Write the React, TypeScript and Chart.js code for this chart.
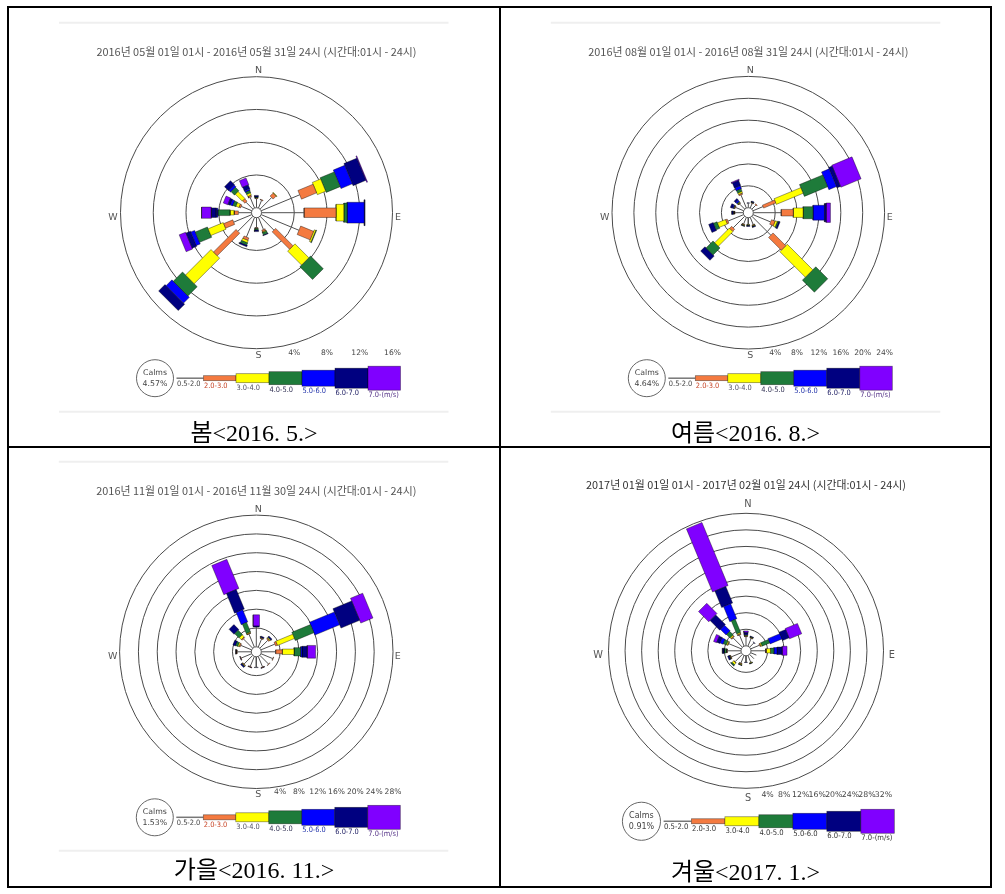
import React, { useEffect, useRef } from 'react';
import { Chart, registerables } from 'chart.js';

Chart.register(...registerables);

// ---------- categories ----------
const DIRECTIONS = ['N', 'NNE', 'NE', 'ENE', 'E', 'ESE', 'SE', 'SSE', 'S', 'SSW', 'SW', 'WSW', 'W', 'WNW', 'NW', 'NNW'];
const SPEED_CLASSES = ['0.5-2.0', '2.0-3.0', '3.0-4.0', '4.0-5.0', '5.0-6.0', '6.0-7.0', '7.0-(m/s)'];

// ---------- 봄 2016.5 (frequency %, by direction N..NNW) ----------
const MAY_0520 = [1.1, 1.0, 2.0, 5.1, 5.2, 5.0, 2.4, 1.6, 1.2, 2.6, 2.6, 2.4, 1.6, 1.4, 1.2, 1.4];
const MAY_2030 = [0.1, 0.1, 0.5, 2.0, 3.9, 1.7, 3.0, 0.2, 0.1, 0.3, 3.9, 1.2, 0.5, 0.2, 0.4, 0.2];
const MAY_3040 = [0, 0, 0.1, 1.1, 0.95, 0.2, 2.4, 0.1, 0, 0.3, 4.4, 2.0, 0.5, 0.4, 1.2, 0.3];
const MAY_4050 = [0.1, 0, 0, 1.85, 0.4, 0.1, 2.2, 0.3, 0.2, 0.3, 1.6, 1.6, 1.5, 0.4, 0.6, 0.3];
const MAY_5060 = [0, 0, 0, 1.5, 2.1, 0, 0, 0, 0, 0, 1.0, 0.5, 0.2, 0.3, 0.3, 0.2];
const MAY_6070 = [0.2, 0, 0, 1.7, 0.1, 0, 0, 0.1, 0.2, 0.2, 1.1, 0.6, 0.6, 0.3, 0.7, 0.5];
const MAY_70UP = [0, 0, 0, 0.1, 0, 0, 0, 0, 0, 0, 0, 0.85, 1.2, 0.6, 0, 0.9];

// ---------- 여름 2016.8 ----------
const AUG_0520 = [0.8, 0.9, 1.0, 2.0, 5.1, 3.5, 4.9, 1.4, 1.2, 1.3, 3.0, 3.1, 1.5, 1.6, 1.3, 2.6];
const AUG_2030 = [0, 0.1, 0.2, 2.4, 2.2, 0.7, 3.3, 0.1, 0, 0.1, 0.5, 0.3, 0.1, 0.1, 0.1, 0.2];
const AUG_3040 = [0, 0, 0, 5.3, 1.8, 0.4, 6.6, 0.1, 0.1, 0.1, 3.8, 1.6, 0.1, 0.1, 0.1, 0.3];
const AUG_4050 = [0, 0.1, 0, 4.6, 1.8, 0.2, 3.1, 0.1, 0.1, 0.1, 1.8, 0.7, 0.1, 0.1, 0.2, 0.5];
const AUG_5060 = [0, 0, 0, 1.5, 2.1, 0, 0, 0, 0, 0, 0, 0, 0, 0.2, 0.3, 0.6];
const AUG_6070 = [0.1, 0.2, 0, 0.7, 0.3, 0.3, 0, 0.2, 0.2, 0.1, 1.1, 0.9, 0.3, 0.4, 0.4, 1.0];
const AUG_70UP = [0, 0, 0, 4.0, 0.8, 0, 0, 0, 0, 0, 0, 0, 0, 0, 0, 0.2];

// ---------- 가을 2016.11 ----------
const NOV_0520 = [4.2, 1.9, 2.4, 3.2, 3.05, 2.7, 2.6, 2.4, 2.2, 2.3, 2.6, 2.4, 3.0, 2.5, 2.8, 3.0];
const NOV_2030 = [0, 0.1, 0.2, 0.4, 1.4, 0.1, 0.1, 0.1, 0, 0.1, 0.1, 0.1, 0.1, 0.2, 0.2, 0.1];
const NOV_3040 = [0, 0.1, 0.2, 3.9, 2.5, 0, 0, 0, 0, 0, 0.1, 0, 0, 0.3, 0.6, 0.2];
const NOV_4050 = [0, 0, 0.1, 4.3, 1.4, 0, 0, 0, 0, 0, 0.1, 0, 0.1, 0.5, 1.3, 2.2];
const NOV_5060 = [0, 0, 0, 5.7, 0.3, 0, 0, 0, 0, 0, 0, 0, 0, 0, 0, 2.8];
const NOV_6070 = [0.2, 0.3, 0.3, 4.3, 1.1, 0, 0, 0.1, 0.1, 0.1, 0.3, 0.1, 0.1, 0.6, 1.5, 4.5];
const NOV_70UP = [2.4, 0, 0, 2.8, 1.8, 0, 0, 0, 0, 0, 0, 0, 0, 0, 0, 6.7];

// ---------- 겨울 2017.1 ----------
const JAN_0520 = [2.2, 2.0, 1.5, 2.3, 3.5, 1.5, 1.5, 1.8, 1.5, 2.0, 2.5, 2.6, 3.3, 3.3, 3.2, 2.9];
const JAN_2030 = [0.1, 0.1, 0, 0.2, 0.2, 0, 0, 0, 0, 0.1, 0.1, 0.1, 0.1, 0.1, 0.2, 0.2];
const JAN_3040 = [0.1, 0.1, 0, 0.3, 1.0, 0, 0, 0.1, 0, 0.2, 0.5, 0.1, 0.1, 0.3, 0.3, 0.3];
const JAN_4050 = [0.2, 0.1, 0, 2.0, 0.8, 0, 0, 0.1, 0, 0.1, 0.3, 0.1, 0.5, 0.8, 1.2, 3.4];
const JAN_5060 = [0.2, 0, 0, 3.1, 0.8, 0, 0, 0, 0, 0, 0, 0.1, 0.1, 0.8, 1.9, 3.9];
const JAN_6070 = [0.4, 0.2, 0.1, 1.7, 1.2, 0, 0, 0.1, 0.1, 0.1, 0.1, 0.4, 0.4, 0.8, 3.3, 4.3];
const JAN_70UP = [0.4, 0, 0, 3.2, 1.2, 0, 0, 0, 0, 0, 0, 0, 0, 0.8, 3.5, 16.5];

const CALMS = [4.57, 4.64, 1.53, 0.91];
const RING_COUNTS = [4, 6, 7, 8];
const TITLES = [
  '2016년 05월 01일 01시 - 2016년 05월 31일 24시 (시간대:01시 - 24시)',
  '2016년 08월 01일 01시 - 2016년 08월 31일 24시 (시간대:01시 - 24시)',
  '2016년 11월 01일 01시 - 2016년 11월 30일 24시 (시간대:01시 - 24시)',
  '2017년 01월 01일 01시 - 2017년 02월 01일 24시 (시간대:01시 - 24시)',
];
const CAPTIONS = ['봄<2016. 5.>', '여름<2016. 8.>', '가을<2016. 11.>', '겨울<2017. 1.>'];
const SERIES = [
  [MAY_0520, MAY_2030, MAY_3040, MAY_4050, MAY_5060, MAY_6070, MAY_70UP],
  [AUG_0520, AUG_2030, AUG_3040, AUG_4050, AUG_5060, AUG_6070, AUG_70UP],
  [NOV_0520, NOV_2030, NOV_3040, NOV_4050, NOV_5060, NOV_6070, NOV_70UP],
  [JAN_0520, JAN_2030, JAN_3040, JAN_4050, JAN_5060, JAN_6070, JAN_70UP],
];

// ---------- styles ----------
const CLASS_COLORS = ['#3a3a3a', '#F47A40', '#FFFF00', '#1E7B3A', '#0000FF', '#000080', '#8000FF'];
// bar width = spread * radius at which the segment starts (wedge-like growth)
const CLASS_SPREAD = [0, 0.2, 0.21, 0.22, 0.23, 0.24, 0.25];
const LEGEND_BOUNDS = [-80, -53, -20.5, 12.5, 45.5, 78.5, 111.5, 144];
const LEGEND_HEIGHTS = [1.5, 5, 9, 13, 16, 20, 24];
const LEGEND_LABEL_COLORS = ['#444', '#c8482a', '#556', '#335', '#2233aa', '#222266', '#553388'];

// page layout per panel: center, outer ring radius, label scale, frame line
const LAYOUT = [
  { cx: 256.5, cy: 212.7, R: 136, ls: 1.0, frame: true, titleColor: '#555' },
  { cx: 748.3, cy: 212.7, R: 136.3, ls: 1.0, frame: true, titleColor: '#555' },
  { cx: 256.3, cy: 651.8, R: 136.7, ls: 1.0, frame: true, titleColor: '#555' },
  { cx: 746, cy: 650.8, R: 137.5, ls: 1.03, frame: false, titleColor: '#333' },
];
const CAPTION_POS = [
  { left: 9, width: 490, top: 418 },
  { left: 501, width: 489, top: 418 },
  { left: 9, width: 490, top: 855 },
  { left: 501, width: 489, top: 857 },
];
const CANVAS_LEFT = 235;
const CANVAS_W = 475;
const CANVAS_TOP = 200;
const CANVAS_H = 412;
const CALM_PX = 5;

function calmRadius(idx: number) {
  const n = RING_COUNTS[idx];
  return (CALM_PX * 4 * n) / (LAYOUT[idx].R - CALM_PX);
}

function buildDatasets(idx: number) {
  const series = SERIES[idx];
  const calmR = calmRadius(idx);
  const datasets: any[] = [];
  for (let d = 0; d < DIRECTIONS.length; d++) {
    const th = (d * Math.PI) / 8;
    const ux = Math.sin(th), uy = Math.cos(th);
    const px = Math.cos(th), py = -Math.sin(th);
    let cum = 0;
    for (let c = 0; c < SPEED_CLASSES.length; c++) {
      const v = series[c][d];
      if (!v) continue;
      const r1 = calmR + cum;
      const r2 = calmR + cum + v;
      cum += v;
      if (c === 0) {
        datasets.push({
          label: DIRECTIONS[d] + ' ' + SPEED_CLASSES[c],
          data: [{ x: r1 * ux, y: r1 * uy }, { x: r2 * ux, y: r2 * uy }],
          showLine: true,
          borderColor: '#505050',
          borderWidth: 1,
          fill: false,
          pointRadius: 0,
        });
        continue;
      }
      const h = (CLASS_SPREAD[c] * r1) / 2;
      const pts = [
        { x: r1 * ux + h * px, y: r1 * uy + h * py },
        { x: r2 * ux + h * px, y: r2 * uy + h * py },
        { x: r2 * ux - h * px, y: r2 * uy - h * py },
        { x: r1 * ux - h * px, y: r1 * uy - h * py },
        { x: r1 * ux + h * px, y: r1 * uy + h * py },
      ];
      datasets.push({
        label: DIRECTIONS[d] + ' ' + SPEED_CLASSES[c],
        data: pts,
        showLine: true,
        fill: 'shape',
        backgroundColor: CLASS_COLORS[c],
        borderColor: 'rgba(0,0,0,0.55)',
        borderWidth: 0.7,
        pointRadius: 0,
      });
    }
  }
  return datasets;
}

function makePlugin(idx: number) {
  const lay = LAYOUT[idx];
  const n = RING_COUNTS[idx];
  const calmR = calmRadius(idx);
  const s = lay.ls;
  return {
    id: 'windrose' + idx,
    beforeDatasetsDraw(chart: any) {
      const ctx = chart.ctx;
      const xs = chart.scales.x;
      const ys = chart.scales.y;
      const cx = xs.getPixelForValue(0);
      const cy = ys.getPixelForValue(0);
      const ppu = xs.getPixelForValue(1) - cx;
      ctx.save();
      if (lay.frame) {
        ctx.strokeStyle = '#efefef';
        ctx.lineWidth = 2;
        ctx.beginPath();
        ctx.moveTo(cx - 197.5, cy - 190);
        ctx.lineTo(cx + 192, cy - 190);
        ctx.moveTo(cx - 197.5, cy + 199);
        ctx.lineTo(cx + 192, cy + 199);
        ctx.stroke();
      }
      // title
      ctx.fillStyle = lay.titleColor;
      ctx.font = '10.9px "Noto Sans CJK KR", sans-serif';
      ctx.textAlign = 'center';
      ctx.textBaseline = 'middle';
      ctx.fillText(TITLES[idx], cx, cy - 161 * s);
      // rings
      ctx.strokeStyle = '#4a4a4a';
      ctx.lineWidth = 1;
      for (let i = 1; i <= n; i++) {
        const r = (calmR + 4 * i) * ppu;
        ctx.beginPath();
        ctx.arc(cx, cy, r, 0, Math.PI * 2);
        ctx.stroke();
      }
      // compass labels
      ctx.fillStyle = '#555';
      ctx.font = (9.5 * s).toFixed(1) + 'px "DejaVu Sans", sans-serif';
      ctx.fillText('N', cx + 2, cy - 142 * s);
      ctx.fillText('S', cx + 2, cy + 143 * s);
      ctx.fillText('W', cx - 143.5 * s, cy + 5);
      ctx.fillText('E', cx + 141.5 * s, cy + 5);
      // percent labels
      ctx.font = (7.6 * s).toFixed(1) + 'px "DejaVu Sans", sans-serif';
      ctx.fillStyle = '#444';
      for (let i = 1; i <= n; i++) {
        const r = (calmR + 4 * i) * ppu;
        ctx.fillText(4 * i + '%', cx + r, cy + 140 * s);
      }
      ctx.restore();
    },
    afterDatasetsDraw(chart: any) {
      const ctx = chart.ctx;
      const xs = chart.scales.x;
      const ys = chart.scales.y;
      const cx = xs.getPixelForValue(0);
      const cy = ys.getPixelForValue(0);
      const ppu = xs.getPixelForValue(1) - cx;
      ctx.save();
      // calm circle
      ctx.fillStyle = '#fff';
      ctx.strokeStyle = '#555';
      ctx.lineWidth = 1;
      ctx.beginPath();
      ctx.arc(cx, cy, calmR * ppu, 0, Math.PI * 2);
      ctx.fill();
      ctx.stroke();
      // legend
      const ly = cy + 165.5 * s;
      const ccx = cx - 101.5 * s;
      ctx.beginPath();
      ctx.arc(ccx, ly, 18.5 * s, 0, Math.PI * 2);
      ctx.fillStyle = '#fff';
      ctx.fill();
      ctx.strokeStyle = '#666';
      ctx.stroke();
      ctx.fillStyle = '#444';
      ctx.textAlign = 'center';
      ctx.textBaseline = 'middle';
      ctx.font = (7.8 * s).toFixed(1) + 'px "DejaVu Sans", sans-serif';
      ctx.fillText('Calms', ccx, ly - 5.5 * s);
      ctx.fillText(CALMS[idx].toFixed(2) + '%', ccx, ly + 5.5 * s);
      for (let c = 0; c < SPEED_CLASSES.length; c++) {
        const x1 = cx + LEGEND_BOUNDS[c] * s;
        const x2 = cx + LEGEND_BOUNDS[c + 1] * s;
        const hh = LEGEND_HEIGHTS[c] / 2;
        ctx.fillStyle = c === 0 ? '#777' : CLASS_COLORS[c];
        ctx.fillRect(x1, ly - hh, x2 - x1, hh * 2);
        if (c > 0) {
          ctx.strokeStyle = 'rgba(0,0,0,0.5)';
          ctx.lineWidth = 0.7;
          ctx.strokeRect(x1, ly - hh, x2 - x1, hh * 2);
        }
        ctx.fillStyle = idx === 3 ? '#333' : LEGEND_LABEL_COLORS[c];
        ctx.textAlign = 'left';
        ctx.font = (7.4 * s).toFixed(1) + 'px "DejaVu Sans Condensed", "DejaVu Sans", sans-serif';
        ctx.fillText(SPEED_CLASSES[c], x1 + 0.5, ly + hh + 5 * s);
      }
      ctx.restore();
    },
  };
}

function WindRose({ idx }: { idx: number }) {
  const ref = useRef<HTMLCanvasElement | null>(null);
  const lay = LAYOUT[idx];
  const left = Math.floor(lay.cx - CANVAS_LEFT);
  const top = Math.floor(lay.cy - CANVAS_TOP);
  useEffect(() => {
    const canvas = ref.current;
    if (!canvas) return;
    const n = RING_COUNTS[idx];
    const calmR = calmRadius(idx);
    const ppu = lay.R / (calmR + 4 * n);
    const offX = lay.cx - left;
    const offY = lay.cy - top;
    const chart = new Chart(canvas, {
      type: 'scatter',
      data: { datasets: buildDatasets(idx) },
      options: {
        animation: false,
        responsive: false,
        events: [],
        layout: { padding: 0 },
        plugins: { legend: { display: false }, tooltip: { enabled: false }, title: { display: false } },
        elements: { line: { tension: 0 }, point: { radius: 0 } },
        scales: {
          x: { type: 'linear', display: false, min: -offX / ppu, max: (CANVAS_W - offX) / ppu },
          y: { type: 'linear', display: false, min: -(CANVAS_H - offY) / ppu, max: offY / ppu },
        },
      },
      plugins: [makePlugin(idx)],
    } as any);
    return () => chart.destroy();
  }, [idx]);
  return (
    <canvas
      ref={ref}
      width={CANVAS_W}
      height={CANVAS_H}
      style={{ position: 'absolute', left, top, width: CANVAS_W, height: CANVAS_H }}
    />
  );
}

export default function App() {
  return (
    <div style={{ position: 'absolute', left: 0, top: 0, width: 1005, height: 894, background: '#fff', overflow: 'hidden' }}>
      {[0, 1, 2, 3].map((i) => (
        <WindRose key={i} idx={i} />
      ))}
      {CAPTIONS.map((t, i) => (
        <div
          key={'c' + i}
          style={{
            position: 'absolute',
            left: CAPTION_POS[i].left,
            top: CAPTION_POS[i].top,
            width: CAPTION_POS[i].width,
            height: 30,
            lineHeight: '30px',
            textAlign: 'center',
            fontSize: 24,
            fontFamily: '"Liberation Serif", "Noto Sans CJK KR", serif',
            color: '#000',
            whiteSpace: 'pre',
          }}
        >
          {t}
        </div>
      ))}
      <div style={{ position: 'absolute', left: 7, top: 6, width: 985, height: 882, border: '2px solid #000', boxSizing: 'border-box' }} />
      <div style={{ position: 'absolute', left: 499, top: 6, width: 2, height: 882, background: '#000' }} />
      <div style={{ position: 'absolute', left: 7, top: 446, width: 985, height: 2, background: '#000' }} />
    </div>
  );
}
